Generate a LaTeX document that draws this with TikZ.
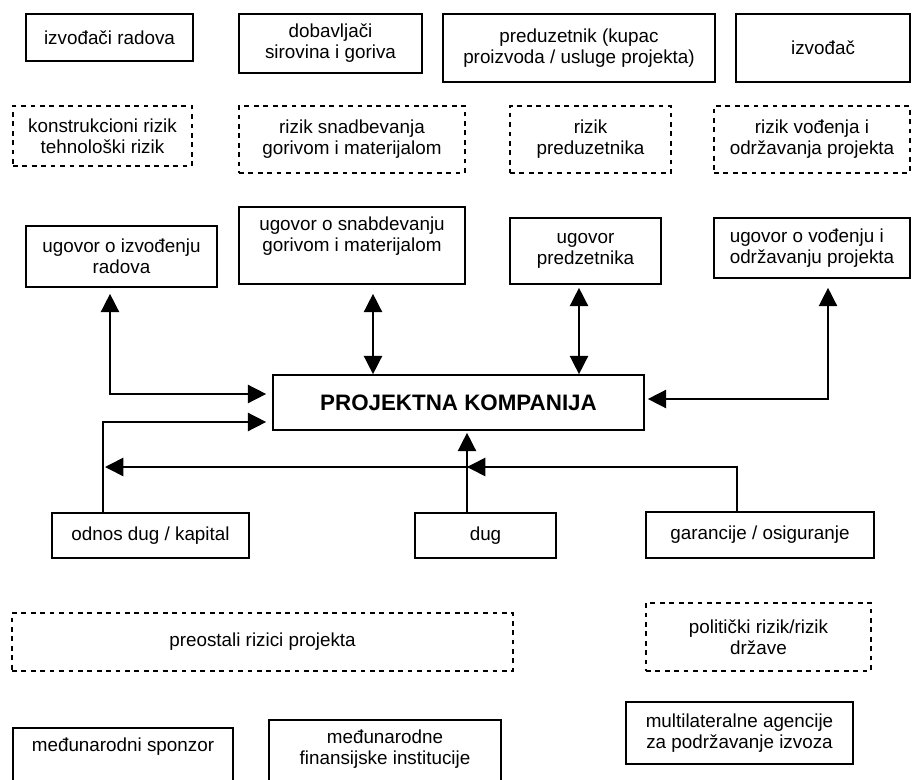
\documentclass[tikz,border=0pt]{standalone}
\usepackage{fontspec}
\setmainfont{Liberation Sans}
\usetikzlibrary{arrows.meta, positioning}

\tikzset{
  box/.style={draw, line width=1.2pt, align=center, inner sep=0pt,
    font=\fontsize{13.4}{15}\selectfont},
  risk/.style={box, dash pattern=on 3.4pt off 3.3pt},
  txt/.style={align=center, inner sep=0pt, font=\fontsize{13.4}{15}\selectfont},
  sz/.style 2 args={minimum width=#1*0.025cm, minimum height=#2*0.025cm},
  link/.style={line width=1.1pt},
  arr/.style={link, -{Triangle[length=13pt, width=13pt]}},
  arrb/.style={link, {Triangle[length=13pt, width=13pt]}-{Triangle[length=13pt, width=13pt]}},
}

\begin{document}
\begin{tikzpicture}[x=0.025cm, y=-0.025cm]

\useasboundingbox (0,0) rectangle (912,780);
\clip (0,0) rectangle (912,780);

% ============================================================
% Participants (top row)
% ============================================================
\node[box, sz={167}{47}] (izv) at (109.5,37.5) {izvođači radova};
\node[box, sz={183}{59}] (dob) at (330.5,43.5) {dobavljači\\sirovina i goriva};
\node[box, sz={272}{68}] (pred) at (579,48) {preduzetnik (kupac\\proizvoda / usluge projekta)};
\node[box, sz={174}{68}] (izvd) at (823,48) {izvođač};

% Risks (dashed)
\node[risk, sz={179}{60}] (rkon) at (102.5,136) {konstrukcioni rizik\\tehnološki rizik};
\node[risk, sz={226}{67}] (rsnab) at (352,139.5) {rizik snadbevanja\\gorivom i materijalom};
\node[risk, sz={161}{67}] (rpred) at (590.5,139.5) {rizik\\preduzetnika};
\node[risk, sz={196}{67}] (rvod) at (812,139.5) {rizik vođenja i\\održavanja projekta};

% ============================================================
% Contracts
% ============================================================
\node[box, sz={191}{61}] (uizv) at (121.5,256.5) {ugovor o izvođenju\\radova};
\node[box, sz={226}{77}] (usnab) at (352,245.5) {};
\node[txt, below=0.25cm of usnab.north] (usnabt) {ugovor o snabdevanju\\gorivom i materijalom};
\node[box, sz={151}{66}] (upred) at (585.5,251) {ugovor\\predzetnika};
\node[box, sz={196}{60}, align=left] (uvod) at (812,248) {ugovor o vođenju i\\održavanju projekta};

% Project company
\node[box, sz={371}{55}, font=\fontsize{15.9}{18}\selectfont\bfseries] (pk) at (458.5,402.5)
  {PROJEKTNA KOMPANIJA};

% Financing
\node[box, sz={197}{45}] (odnos) at (150.5,535.5) {odnos dug / kapital};
\node[box, sz={141}{45}] (dug) at (485.5,535.5) {dug};
\node[box, sz={228}{46}] (gar) at (760,535) {garancije / osiguranje};

% ============================================================
% Lower part
% ============================================================
\node[risk, sz={501}{58}] (rost) at (262.5,642) {preostali rizici projekta};
\node[risk, sz={225}{68}] (rpol) at (758.5,637) {politički rizik/rizik\\države};

\node[box, sz={220}{80}] (spon) at (123,768) {};
\node[txt, below=0.27cm of spon.north] (spont) {međunarodni sponzor};
\node[box, sz={232}{90}] (mfi) at (385,765) {};
\node[txt, below=0.25cm of mfi.north] (mfit) {međunarodne\\finansijske institucije};
\node[box, sz={227}{62}] (multi) at (739.5,733) {multilateralne agencije\\za podržavanje izvoza};

% ============================================================
% Connectors
% ============================================================
\coordinate (j1) at (110,394);
\coordinate (j2) at (103,422);
\coordinate (j3) at (737,467);
\coordinate (j4) at (467,467);
\coordinate (j5) at (373,330);
\coordinate (j6) at (579,330);
\coordinate (j7) at (828,399);

\draw[arrb, shorten <=0.15cm, shorten >=0.15cm] (j1 |- uizv.south) -- (j1) -- (j1 -| pk.west);
\draw[arr, shorten >=0.15cm] (j2 |- odnos.north) -- (j2) -- (j2 -| pk.west);
\draw[arr, shorten >=0.05cm] (j3 |- gar.north) -- (j3) -- (j2 |- j3);
\draw[arr] (j3) -- (j4);
\draw[arr, shorten >=0.05cm] (j4 |- dug.north) -- (j4 |- pk.south);
\draw[arrb, shorten <=0.225cm] (j5 |- usnab.south) -- (j5 |- pk.north);
\draw[arrb, shorten <=0.075cm] (j6 |- upred.south) -- (j6 |- pk.north);
\draw[arrb, shorten <=0.225cm, shorten >=0.075cm] (j7 |- uvod.south) -- (j7) -- (j7 -| pk.east);

\end{tikzpicture}
\end{document}
